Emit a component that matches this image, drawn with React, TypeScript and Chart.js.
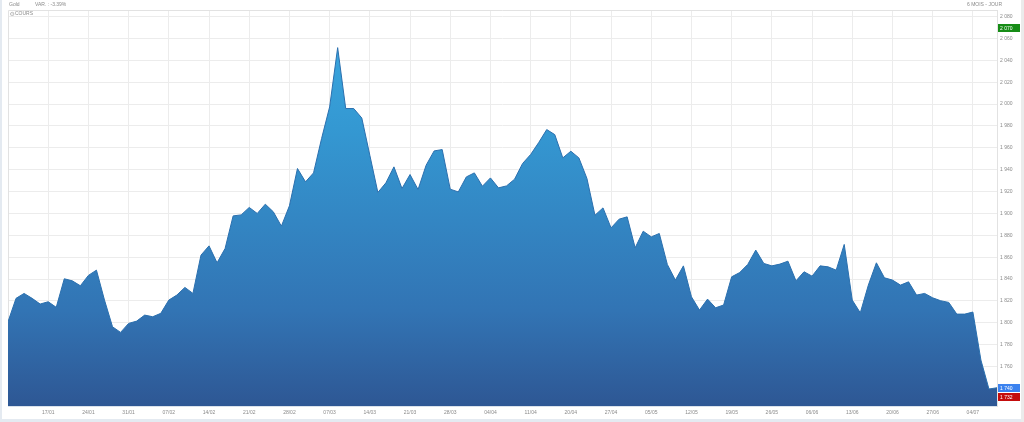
import React, { useEffect, useRef } from "react";
import { Chart, registerables } from "chart.js";

Chart.register(...registerables);

// Daily gold prices (6 months, daily)
const prices: number[] = [
  1801.0, 1822.4, 1826.9, 1822.4, 1817.2, 1819.3, 1814.2, 1840.3, 1838.4, 1833.9,
  1843.4, 1848.2, 1820.8, 1796.4, 1791.3, 1799.5, 1801.6, 1807.1, 1805.6, 1808.7,
  1820.8, 1825.4, 1832.4, 1826.9, 1861.9, 1870.4, 1854.9, 1868.0, 1897.8, 1898.7,
  1905.5, 1900.0, 1908.5, 1901.5, 1888.4, 1907.0, 1941.1, 1928.9, 1937.1, 1968.5,
  1997.4, 2051.6, 1995.9, 1995.9, 1987.3, 1953.2, 1919.2, 1928.0, 1942.6, 1922.8,
  1935.6, 1921.9, 1944.1, 1957.2, 1958.4, 1922.2, 1919.7, 1933.4, 1937.1, 1924.9,
  1932.5, 1923.4, 1925.2, 1931.3, 1945.7, 1953.9, 1964.8, 1976.7, 1972.1, 1950.8,
  1956.9, 1950.8, 1932.0, 1898.4, 1905.1, 1886.8, 1894.8, 1896.9, 1868.6, 1883.8,
  1878.6, 1881.7, 1853.4, 1839.1, 1852.1, 1823.8, 1811.7, 1821.7, 1813.8, 1816.3,
  1842.1, 1846.0, 1853.4, 1866.5, 1854.3, 1852.1, 1853.7, 1856.4, 1838.4, 1846.7,
  1842.7, 1852.1, 1851.2, 1848.2, 1871.7, 1820.8, 1809.2, 1834.5, 1854.9, 1841.2,
  1839.1, 1834.5, 1837.5, 1825.4, 1826.9, 1822.9, 1820.2, 1818.7, 1808.0, 1808.0,
  1809.9, 1766.0, 1739.5, 1740.7,
];

const xTickLabels: string[] = [
  "17/01", "24/01", "31/01", "07/02", "14/02", "21/02", "28/02", "07/03",
  "14/03", "21/03", "28/03", "04/04", "11/04", "20/04", "27/04", "05/05",
  "12/05", "19/05", "26/05", "06/06", "13/06", "20/06", "27/06", "04/07",
];
const firstTickIndex = 5;
const tickStep = 5;

const yTickValues: number[] = [
  1740, 1760, 1780, 1800, 1820, 1840, 1860, 1880, 1900, 1920,
  1940, 1960, 1980, 2000, 2020, 2040, 2060, 2080,
];
const yMin = 1724;
const yMax = 2086;

const markerValues: number[] = [2070, 1740, 1732];
const markerColors: string[] = ["#168c16", "#3b82ef", "#c40d0d"];

const FONT = "'Liberation Sans', Arial, sans-serif";
const fmt = (v: number) => {
  const s = String(Math.round(v));
  return s.length > 3 ? s.slice(0, s.length - 3) + " " + s.slice(-3) : s;
};

export default function App() {
  const canvasRef = useRef<HTMLCanvasElement | null>(null);

  useEffect(() => {
    const canvas = canvasRef.current;
    if (!canvas) return;

    const framePlugin = {
      id: "frame",
      beforeDatasetsDraw(chart: any) {
        const { ctx, chartArea } = chart;
        ctx.save();
        ctx.strokeStyle = "#e2e2e2";
        ctx.lineWidth = 1;
        ctx.beginPath();
        ctx.moveTo(chartArea.left + 0.5, chartArea.bottom);
        ctx.lineTo(chartArea.left + 0.5, chartArea.top + 0.5);
        ctx.lineTo(chartArea.right, chartArea.top + 0.5);
        ctx.stroke();
        ctx.restore();
      },
      afterDraw(chart: any) {
        const { ctx, scales } = chart;
        ctx.save();
        markerValues.forEach((v, i) => {
          const y = Math.round(scales.y.getPixelForValue(v));
          ctx.fillStyle = markerColors[i];
          ctx.fillRect(998, y - 4, 22, 8);
          ctx.fillStyle = "#ffffff";
          ctx.font = `5px ${FONT}`;
          ctx.textBaseline = "middle";
          ctx.textAlign = "left";
          ctx.fillText(fmt(v), 1000, y + 0.5);
        });
        // header texts
        ctx.fillStyle = "#8a8a8a";
        ctx.font = `5px ${FONT}`;
        ctx.textBaseline = "middle";
        ctx.textAlign = "left";
        ctx.fillText("Gold", 9, 5);
        ctx.fillText("VAR. : -3.39%", 35, 5);
        ctx.textAlign = "right";
        ctx.fillText("6 MOIS - JOUR", 1002, 5);
        ctx.textAlign = "left";
        ctx.fillText("COURS", 15, 14);
        ctx.font = `6px 'DejaVu Sans', sans-serif`;
        ctx.fillStyle = "#b0b0b0";
        ctx.fillText("\u2699", 9.5, 14);
        ctx.restore();
      },
    };

    const chart = new Chart(canvas, {
      type: "line",
      data: {
        datasets: [
          {
            data: prices.map((v, i) => ({ x: i, y: v })),
            fill: "start",
            borderColor: "#2a6fae",
            borderWidth: 1,
            pointRadius: 0,
            tension: 0,
            backgroundColor: (ctx: any) => {
              const { chart } = ctx;
              const area = chart.chartArea;
              if (!area) return "#3382c2";
              const g = chart.ctx.createLinearGradient(0, area.top, 0, area.bottom);
              g.addColorStop(0, "#3ba9e1");
              g.addColorStop(0.3, "#3498d2");
              g.addColorStop(0.76, "#3274b4");
              g.addColorStop(1, "#2e5794");
              return g;
            },
          },
        ],
      },
      options: {
        animation: false,
        responsive: false,
        maintainAspectRatio: false,
        layout: { padding: { top: 10, left: 8, right: 0, bottom: 0 } },
        plugins: { legend: { display: false }, tooltip: { enabled: false } },
        scales: {
          x: {
            type: "linear",
            min: 0,
            max: prices.length - 1,
            afterBuildTicks: (s: any) => {
              s.ticks = xTickLabels.map((_, k) => ({ value: firstTickIndex + k * tickStep }));
            },
            afterFit: (s: any) => {
              s.height = 16;
            },
            ticks: {
              autoSkip: false,
              maxRotation: 0,
              padding: 4,
              color: "#8a8a8a",
              font: { size: 5, family: FONT },
              callback: (v: any) => xTickLabels[Math.round((Number(v) - firstTickIndex) / tickStep)] ?? "",
            },
            grid: { color: "#ececec", drawTicks: false },
            border: { color: "#d9e2ec" },
          },
          y: {
            position: "right",
            min: yMin,
            max: yMax,
            afterBuildTicks: (s: any) => {
              s.ticks = yTickValues.map((v) => ({ value: v }));
            },
            afterFit: (s: any) => {
              s.width = 27;
            },
            ticks: {
              padding: 3,
              color: "#8a8a8a",
              font: { size: 5, family: FONT },
              callback: (v: any) => fmt(Number(v)),
            },
            grid: { color: "#ececec", drawTicks: false },
            border: { color: "#e2e2e2" },
          },
        },
      },
      plugins: [framePlugin],
    } as any);

    return () => chart.destroy();
  }, []);

  return (
    <div style={{ position: "absolute", left: 0, top: 0, width: 1024, height: 422, background: "#fff", overflow: "hidden" }}>
      <canvas ref={canvasRef} width={1024} height={422} style={{ display: "block", width: 1024, height: 422 }} />
      <div style={{ position: "absolute", left: 0, top: 0, width: 2, height: 422, background: "#e4eaf1" }} />
      <div style={{ position: "absolute", left: 0, top: 419, width: 1024, height: 3, background: "#e4eaf1" }} />
      <div style={{ position: "absolute", left: 1021, top: 0, width: 3, height: 422, background: "#ebebeb" }} />
    </div>
  );
}
